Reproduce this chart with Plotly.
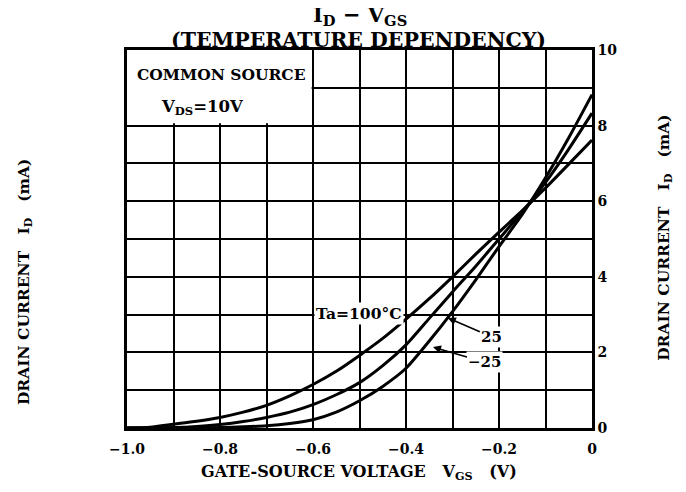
import plotly.graph_objects as go

# Gate-source voltage (V)
vgs = [-1.0, -0.95, -0.9, -0.85, -0.8, -0.75, -0.7, -0.65, -0.6, -0.55, -0.5,
       -0.45, -0.4, -0.35, -0.3, -0.25, -0.2, -0.15, -0.1, -0.05, 0.0]

# Drain current (mA) for each ambient temperature
id_100 = [0.0, 0.02, 0.1, 0.18, 0.28, 0.42, 0.6, 0.85, 1.15, 1.5, 1.92,
          2.37, 2.88, 3.42, 4.0, 4.6, 5.18, 5.75, 6.35, 6.98, 7.62]
id_25 = [0.0, 0.0, 0.01, 0.04, 0.09, 0.17, 0.28, 0.42, 0.62, 0.88, 1.2,
         1.65, 2.2, 2.9, 3.6, 4.28, 5.0, 5.72, 6.5, 7.38, 8.33]
id_m25 = [0.0, 0.0, 0.0, 0.0, 0.01, 0.03, 0.06, 0.12, 0.22, 0.42, 0.72,
          1.1, 1.58, 2.3, 3.08, 3.92, 4.8, 5.65, 6.62, 7.68, 8.82]

x_tickvals = [-1.0, -0.9, -0.8, -0.7, -0.6, -0.5, -0.4, -0.3, -0.2, -0.1, 0.0]
x_ticktext = ["\u22121.0", " ", "\u22120.8", " ", "\u22120.6", " ", "\u22120.4", " ", "\u22120.2", " ", "0"]
y_tickvals = [0, 1, 2, 3, 4, 5, 6, 7, 8, 9, 10]
y_ticktext = ["0", " ", "2", " ", "4", " ", "6", " ", "8", " ", "10"]

FONT = "DejaVu Serif"

fig = go.Figure()
for ys in (id_100, id_25, id_m25):
    fig.add_trace(go.Scatter(x=vgs, y=ys, mode="lines",
                             line=dict(color="black", width=3, shape="spline", smoothing=0.6),
                             showlegend=False, hoverinfo="skip"))

fig.update_layout(
    width=678, height=484,
    margin=dict(l=119, r=94, t=42, b=64),
    paper_bgcolor="white", plot_bgcolor="white",
    font=dict(family=FONT, color="black"),
)
fig.update_xaxes(
    range=[-1.0, 0.0], tickvals=x_tickvals, ticktext=x_ticktext,
    showgrid=True, gridcolor="black", gridwidth=2, zeroline=False,
    showline=True, linecolor="black", linewidth=2.5, mirror=True,
    ticks="", ticklabelstandoff=6,
    tickfont=dict(family=FONT, size=14, weight="bold", color="black"),
)
fig.update_yaxes(
    range=[0, 10], tickvals=y_tickvals, ticktext=y_ticktext, side="right",
    showgrid=True, gridcolor="black", gridwidth=2, zeroline=False,
    showline=True, linecolor="black", linewidth=2.5, mirror=True,
    ticks="", ticklabelstandoff=0,
    tickfont=dict(family=FONT, size=14, weight="bold", color="black"),
)

# white box behind the condition text
fig.add_shape(type="rect", xref="x", yref="y", x0=-1.0, x1=-0.603, y0=8.06, y1=10,
              fillcolor="white", line=dict(width=0), layer="between")

bold = dict(family=FONT, color="black", weight="bold")
anns = [
    dict(text="I<sub>D</sub> \u2212 V<sub>GS</sub>", xref="paper", yref="paper", x=0.501, y=1.091,
         font=dict(size=21, **bold)),
    dict(text="(TEMPERATURE DEPENDENCY)", xref="paper", yref="paper", x=0.498, y=1.027,
         font=dict(size=20.5, **bold)),
    dict(text="GATE-SOURCE VOLTAGE   V<sub>GS</sub>   (V)", xref="paper", yref="paper", x=0.499, y=-0.118,
         font=dict(size=16, **bold)),
    dict(text="DRAIN CURRENT   I<sub>D</sub>   (mA)", xref="paper", yref="paper", x=-0.2215, y=0.386,
         textangle=-90, font=dict(size=15.5, **bold)),
    dict(text="DRAIN CURRENT   I<sub>D</sub>   (mA)", xref="paper", yref="paper", x=1.157, y=0.503,
         textangle=-90, font=dict(size=15.5, **bold)),
    dict(text="COMMON SOURCE", xref="x", yref="y", x=-0.983, y=9.34, xanchor="left",
         font=dict(size=15.5, **bold)),
    dict(text="V<sub>DS</sub>=10V", xref="x", yref="y", x=-0.837, y=8.49,
         font=dict(size=16.5, **bold)),
    dict(text="Ta=100\u00b0C", xref="x", yref="y", x=-0.501, y=3.04, bgcolor="white",
         font=dict(size=15.5, **bold)),
    dict(text="25", xref="x", yref="y", x=-0.310, y=2.91, ax=44, ay=19, showarrow=True,
         arrowhead=2, arrowsize=1, arrowwidth=1.6, arrowcolor="black", bgcolor="white",
         font=dict(size=15, **bold)),
    dict(text="\u221225", xref="x", yref="y", x=-0.342, y=2.14, ax=52, ay=15, showarrow=True,
         arrowhead=2, arrowsize=1, arrowwidth=1.6, arrowcolor="black", bgcolor="white",
         font=dict(size=15, **bold)),
]
for a in anns:
    a.setdefault("showarrow", False)
    a.setdefault("xanchor", "center")
    a.setdefault("yanchor", "middle")
    fig.add_annotation(**a)

fig.write_html("out.html")
